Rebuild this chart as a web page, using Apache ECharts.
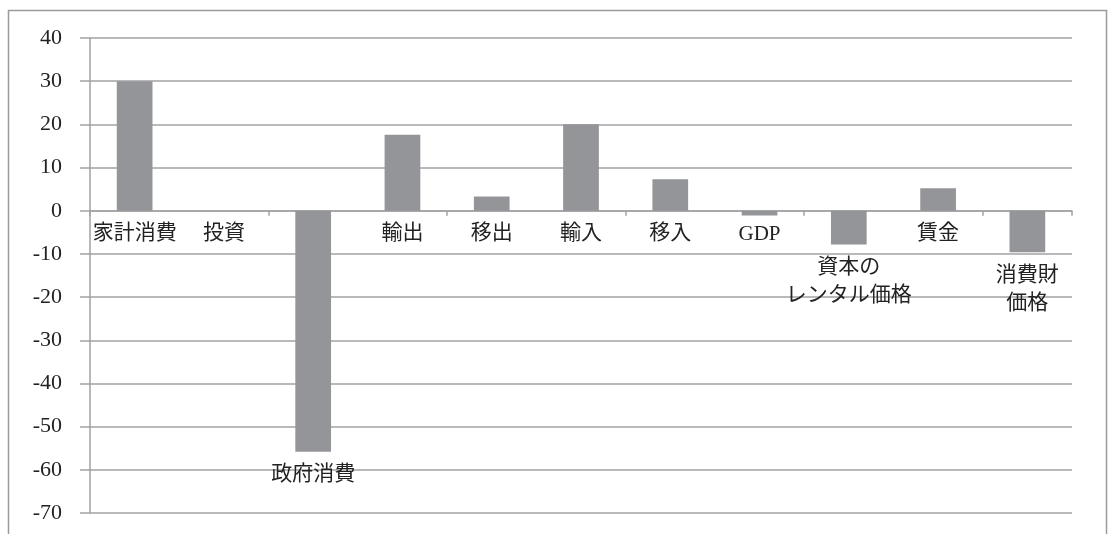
<!DOCTYPE html>
<html><head><meta charset="utf-8">
<script src="https://cdn.jsdelivr.net/npm/echarts@6/dist/echarts.min.js"></script>
<style>html,body{margin:0;padding:0;background:#fff}#c{width:1109px;height:534px}</style>
</head><body><div id="c"></div>
<script>
const categories = ['家計消費','投資','政府消費','輸出','移出','輸入','移入','GDP','資本の\nレンタル価格','賃金','消費財\n価格'];
const values = [30, 0, -55.8, 17.6, 3.3, 20, 7.3, -1.1, -7.8, 5.2, -9.6];
const yTicks = {min: -70, max: 40, interval: 10};

const FONT = '"Liberation Serif", "Noto Sans CJK JP", serif';
const GRAY = '#a2a2a4';
// GDP label sits at the axis level like the positive-bar labels
const seriesData = values.map((v, i) => categories[i] === 'GDP'
  ? {value: v, label: {offset: [0, -4]}}
  : v);
const chart = echarts.init(document.getElementById('c'));
chart.setOption({
  animation: false,
  graphic: [{type:'rect', shape:{x:8.5,y:10.5,width:1098,height:540}, style:{fill:'none', stroke:'#9b9b9d', lineWidth:1.5}, silent:true}],
  grid: {left: 90, right: 37, top: 38, bottom: 21, containLabel: false},
  xAxis: {
    type: 'category', data: categories,
    axisLine: {onZero: true, lineStyle: {color: GRAY, width: 1.5}},
    axisTick: {show: true, length: 5, lineStyle: {color: GRAY, width: 1.5}},
    axisLabel: {show: false},
    splitLine: {show: false}
  },
  yAxis: {
    type: 'value', min: yTicks.min, max: yTicks.max, interval: yTicks.interval,
    axisLine: {show: true, onZero: false, lineStyle: {color: GRAY, width: 1.5}},
    axisTick: {show: true, length: 10, lineStyle: {color: GRAY, width: 1.5}},
    axisLabel: {color: '#222', fontFamily: FONT, fontSize: 22, margin: 28},
    splitLine: {show: true, lineStyle: {color: GRAY, width: 1.5}}
  },
  series: [{
    type: 'bar', data: seriesData, barWidth: '40%',
    itemStyle: {color: '#939598'},
    label: {show: true, position: 'bottom', distance: 9, formatter: '{b}', color: '#222', fontFamily: FONT, fontSize: 21, lineHeight: 28, align: 'center'}
  }]
});
</script></body></html>
